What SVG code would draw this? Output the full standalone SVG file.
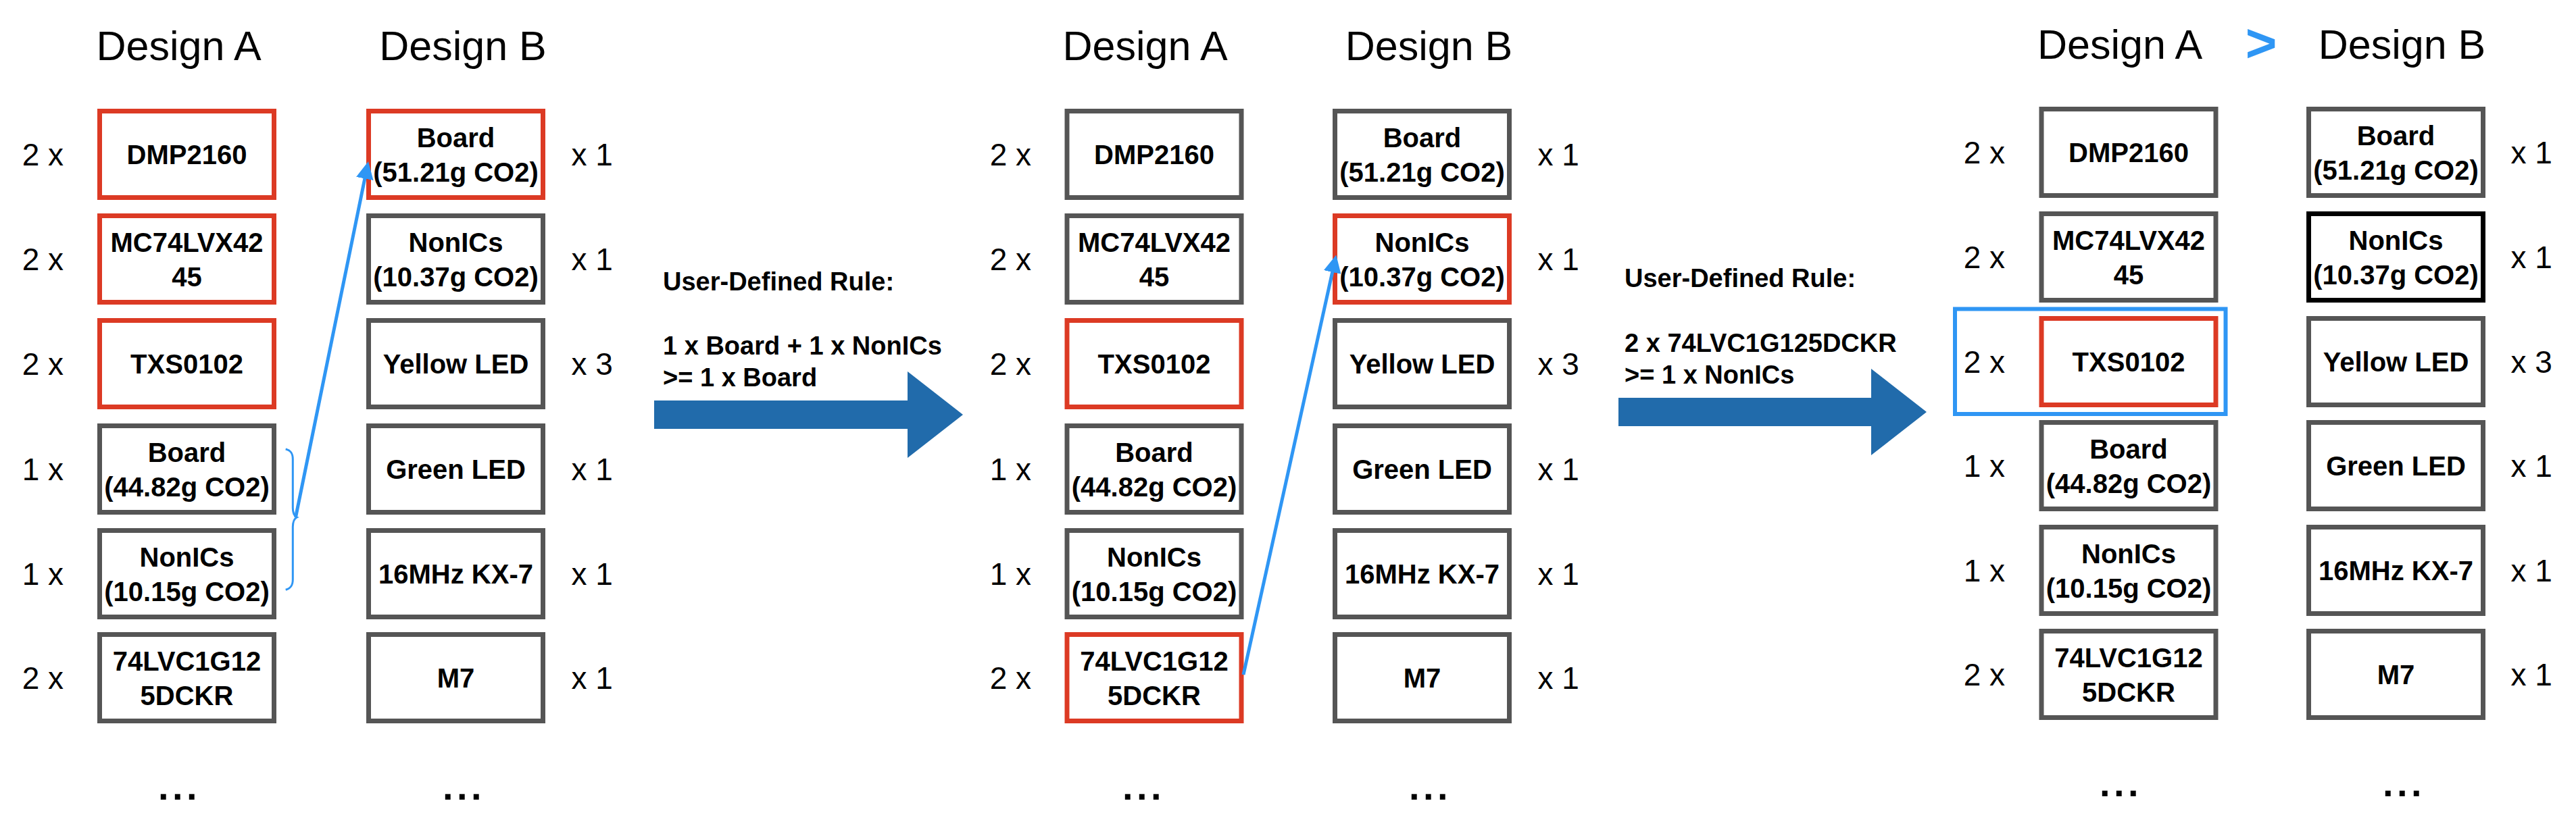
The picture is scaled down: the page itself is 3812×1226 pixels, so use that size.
<svg xmlns="http://www.w3.org/2000/svg" width="3812" height="1226" viewBox="0 0 3812 1226">
<style>
text{font-family:"Liberation Sans",Arial,Helvetica,sans-serif;fill:#000}
.box{fill:#fff;stroke:#555;stroke-width:7}
.red{stroke:#dc3a24}
.blk{stroke:#000}
.t{font-weight:bold;font-size:40px;text-anchor:middle}
.la{font-size:46px;text-anchor:end}
.lb{font-size:46px;text-anchor:start}
.title{font-size:61px;text-anchor:middle}
.rule{font-weight:bold;font-size:38px}
.dots{font-weight:bold;font-size:56px;letter-spacing:5.4px}
.big{fill:#216bab}
.thin{fill:none;stroke:#2f96f4;stroke-width:5}
.brace{fill:none;stroke:#2f96f4;stroke-width:3}
</style>
<defs>
<marker id="ah" markerUnits="userSpaceOnUse" viewBox="0 0 26 26" markerWidth="26" markerHeight="26" refX="20" refY="13" orient="auto">
<path d="M0,0 L26,13 L0,26 z" fill="#2f96f4"/>
</marker>
</defs>
<rect width="3812" height="1226" fill="#fff"/>

<!-- Panel 1 -->
<g id="p1-titles">
<text class="title" x="264.5" y="89">Design A</text>
<text class="title" x="685" y="89">Design B</text>
</g>
<g id="p1-a1" transform="translate(147.5,164.5)"><rect class="box red" width="258" height="128"/><text class="t" x="129" y="78.5">DMP2160</text><text class="la" x="-53.5" y="80.5">2 x</text></g>
<g id="p1-a2" transform="translate(147.5,319.5)"><rect class="box red" width="258" height="128"/><text class="t" x="129" y="53">MC74LVX42</text><text class="t" x="129" y="104">45</text><text class="la" x="-53.5" y="80.5">2 x</text></g>
<g id="p1-a3" transform="translate(147.5,474.5)"><rect class="box red" width="258" height="128"/><text class="t" x="129" y="78.5">TXS0102</text><text class="la" x="-53.5" y="80.5">2 x</text></g>
<g id="p1-a4" transform="translate(147.5,630.5)"><rect class="box" width="258" height="128"/><text class="t" x="129" y="53">Board</text><text class="t" x="129" y="104">(44.82g CO2)</text><text class="la" x="-53.5" y="80.5">1 x</text></g>
<g id="p1-a5" transform="translate(147.5,785.5)"><rect class="box" width="258" height="128"/><text class="t" x="129" y="53">NonICs</text><text class="t" x="129" y="104">(10.15g CO2)</text><text class="la" x="-53.5" y="80.5">1 x</text></g>
<g id="p1-a6" transform="translate(147.5,939.5)"><rect class="box" width="258" height="128"/><text class="t" x="129" y="53">74LVC1G12</text><text class="t" x="129" y="104">5DCKR</text><text class="la" x="-53.5" y="80.5">2 x</text></g>
<g id="p1-b1" transform="translate(545.5,164.5)"><rect class="box red" width="258" height="128"/><text class="t" x="129" y="53">Board</text><text class="t" x="129" y="104">(51.21g CO2)</text><text class="lb" x="300" y="80.5">x 1</text></g>
<g id="p1-b2" transform="translate(545.5,319.5)"><rect class="box" width="258" height="128"/><text class="t" x="129" y="53">NonICs</text><text class="t" x="129" y="104">(10.37g CO2)</text><text class="lb" x="300" y="80.5">x 1</text></g>
<g id="p1-b3" transform="translate(545.5,474.5)"><rect class="box" width="258" height="128"/><text class="t" x="129" y="78.5">Yellow LED</text><text class="lb" x="300" y="80.5">x 3</text></g>
<g id="p1-b4" transform="translate(545.5,630.5)"><rect class="box" width="258" height="128"/><text class="t" x="129" y="78.5">Green LED</text><text class="lb" x="300" y="80.5">x 1</text></g>
<g id="p1-b5" transform="translate(545.5,785.5)"><rect class="box" width="258" height="128"/><text class="t" x="129" y="78.5">16MHz KX-7</text><text class="lb" x="300" y="80.5">x 1</text></g>
<g id="p1-b6" transform="translate(545.5,939.5)"><rect class="box" width="258" height="128"/><text class="t" x="129" y="78.5">M7</text><text class="lb" x="300" y="80.5">x 1</text></g>
<g id="p1-dots"><text class="dots" x="234" y="1184">...</text><text class="dots" x="655" y="1184">...</text></g>

<!-- Rule 1 -->
<g id="rule1">
<text class="rule" x="981" y="430">User-Defined Rule:</text>
<text class="rule" x="981" y="525">1 x Board + 1 x NonICs</text>
<text class="rule" x="981" y="572">&gt;= 1 x Board</text>
<polygon class="big" points="968,593 1343,593 1343,550 1425,614 1343,678 1343,635 968,635"/>
</g>

<!-- Panel 2 -->
<g id="p2-titles">
<text class="title" x="1694.5" y="89">Design A</text>
<text class="title" x="2114.5" y="89">Design B</text>
</g>
<g id="p2-a1" transform="translate(1579,164.5)"><rect class="box" width="258" height="128"/><text class="t" x="129" y="78.5">DMP2160</text><text class="la" x="-53" y="80.5">2 x</text></g>
<g id="p2-a2" transform="translate(1579,319.5)"><rect class="box" width="258" height="128"/><text class="t" x="129" y="53">MC74LVX42</text><text class="t" x="129" y="104">45</text><text class="la" x="-53" y="80.5">2 x</text></g>
<g id="p2-a3" transform="translate(1579,474.5)"><rect class="box red" width="258" height="128"/><text class="t" x="129" y="78.5">TXS0102</text><text class="la" x="-53" y="80.5">2 x</text></g>
<g id="p2-a4" transform="translate(1579,630.5)"><rect class="box" width="258" height="128"/><text class="t" x="129" y="53">Board</text><text class="t" x="129" y="104">(44.82g CO2)</text><text class="la" x="-53" y="80.5">1 x</text></g>
<g id="p2-a5" transform="translate(1579,785.5)"><rect class="box" width="258" height="128"/><text class="t" x="129" y="53">NonICs</text><text class="t" x="129" y="104">(10.15g CO2)</text><text class="la" x="-53" y="80.5">1 x</text></g>
<g id="p2-a6" transform="translate(1579,939.5)"><rect class="box red" width="258" height="128"/><text class="t" x="129" y="53">74LVC1G12</text><text class="t" x="129" y="104">5DCKR</text><text class="la" x="-53" y="80.5">2 x</text></g>
<g id="p2-b1" transform="translate(1975.5,164.5)"><rect class="box" width="258" height="128"/><text class="t" x="129" y="53">Board</text><text class="t" x="129" y="104">(51.21g CO2)</text><text class="lb" x="300" y="80.5">x 1</text></g>
<g id="p2-b2" transform="translate(1975.5,319.5)"><rect class="box red" width="258" height="128"/><text class="t" x="129" y="53">NonICs</text><text class="t" x="129" y="104">(10.37g CO2)</text><text class="lb" x="300" y="80.5">x 1</text></g>
<g id="p2-b3" transform="translate(1975.5,474.5)"><rect class="box" width="258" height="128"/><text class="t" x="129" y="78.5">Yellow LED</text><text class="lb" x="300" y="80.5">x 3</text></g>
<g id="p2-b4" transform="translate(1975.5,630.5)"><rect class="box" width="258" height="128"/><text class="t" x="129" y="78.5">Green LED</text><text class="lb" x="300" y="80.5">x 1</text></g>
<g id="p2-b5" transform="translate(1975.5,785.5)"><rect class="box" width="258" height="128"/><text class="t" x="129" y="78.5">16MHz KX-7</text><text class="lb" x="300" y="80.5">x 1</text></g>
<g id="p2-b6" transform="translate(1975.5,939.5)"><rect class="box" width="258" height="128"/><text class="t" x="129" y="78.5">M7</text><text class="lb" x="300" y="80.5">x 1</text></g>
<g id="p2-dots"><text class="dots" x="1661" y="1184">...</text><text class="dots" x="2085" y="1184">...</text></g>

<!-- Rule 2 -->
<g id="rule2">
<text class="rule" x="2404" y="425">User-Defined Rule:</text>
<text class="rule" x="2404" y="521">2 x 74LVC1G125DCKR</text>
<text class="rule" x="2404" y="568">&gt;= 1 x NonICs</text>
<polygon class="big" points="2395,589 2769,589 2769,546 2851,610 2769,674 2769,631 2395,631"/>
</g>

<!-- Panel 3 -->
<g id="p3-titles">
<text class="title" x="3137" y="87">Design A</text>
<text x="3346" y="91" font-size="80" font-weight="bold" text-anchor="middle" style="fill:#2f96f4">&gt;</text>
<text class="title" x="3554.5" y="87">Design B</text>
</g>
<g id="p3-a1" transform="translate(3021,161.5)"><rect class="box" width="258" height="128"/><text class="t" x="129" y="78.5">DMP2160</text><text class="la" x="-54" y="80.5">2 x</text></g>
<g id="p3-a2" transform="translate(3021,316.5)"><rect class="box" width="258" height="128"/><text class="t" x="129" y="53">MC74LVX42</text><text class="t" x="129" y="104">45</text><text class="la" x="-54" y="80.5">2 x</text></g>
<g id="p3-a3" transform="translate(3021,471.5)"><rect class="box red" width="258" height="128"/><text class="t" x="129" y="78.5">TXS0102</text><text class="la" x="-54" y="80.5">2 x</text></g>
<g id="p3-a4" transform="translate(3021,625.5)"><rect class="box" width="258" height="128"/><text class="t" x="129" y="53">Board</text><text class="t" x="129" y="104">(44.82g CO2)</text><text class="la" x="-54" y="80.5">1 x</text></g>
<g id="p3-a5" transform="translate(3021,780.5)"><rect class="box" width="258" height="128"/><text class="t" x="129" y="53">NonICs</text><text class="t" x="129" y="104">(10.15g CO2)</text><text class="la" x="-54" y="80.5">1 x</text></g>
<g id="p3-a6" transform="translate(3021,934.5)"><rect class="box" width="258" height="128"/><text class="t" x="129" y="53">74LVC1G12</text><text class="t" x="129" y="104">5DCKR</text><text class="la" x="-54" y="80.5">2 x</text></g>
<g id="p3-b1" transform="translate(3416.5,161.5)"><rect class="box" width="258" height="128"/><text class="t" x="129" y="53">Board</text><text class="t" x="129" y="104">(51.21g CO2)</text><text class="lb" x="299" y="80.5">x 1</text></g>
<g id="p3-b2" transform="translate(3416.5,316.5)"><rect class="box blk" width="258" height="128"/><text class="t" x="129" y="53">NonICs</text><text class="t" x="129" y="104">(10.37g CO2)</text><text class="lb" x="299" y="80.5">x 1</text></g>
<g id="p3-b3" transform="translate(3416.5,471.5)"><rect class="box" width="258" height="128"/><text class="t" x="129" y="78.5">Yellow LED</text><text class="lb" x="299" y="80.5">x 3</text></g>
<g id="p3-b4" transform="translate(3416.5,625.5)"><rect class="box" width="258" height="128"/><text class="t" x="129" y="78.5">Green LED</text><text class="lb" x="299" y="80.5">x 1</text></g>
<g id="p3-b5" transform="translate(3416.5,780.5)"><rect class="box" width="258" height="128"/><text class="t" x="129" y="78.5">16MHz KX-7</text><text class="lb" x="299" y="80.5">x 1</text></g>
<g id="p3-b6" transform="translate(3416.5,934.5)"><rect class="box" width="258" height="128"/><text class="t" x="129" y="78.5">M7</text><text class="lb" x="299" y="80.5">x 1</text></g>
<g id="p3-dots"><text class="dots" x="3107" y="1179">...</text><text class="dots" x="3526" y="1179">...</text></g>
<g id="p3-highlight"><rect x="2893" y="457.5" width="400.5" height="155.5" fill="none" stroke="#2f96f4" stroke-width="6"/></g>

<!-- Connectors -->
<g id="connectors">
<path class="brace" d="M422.7,665 C431,667 433.3,672 433.3,680 L433.3,752 C433.5,760 435,764 439.3,766 C435,768 433.5,772 433.3,780 L433.3,858 C433.3,866 431,871 422.7,873.3"/>
<line class="thin" x1="437.5" y1="766" x2="543.8" y2="244.9" marker-end="url(#ah)"/>
<line class="thin" x1="1840" y1="999" x2="1976" y2="383.4" marker-end="url(#ah)"/>
</g>
</svg>
